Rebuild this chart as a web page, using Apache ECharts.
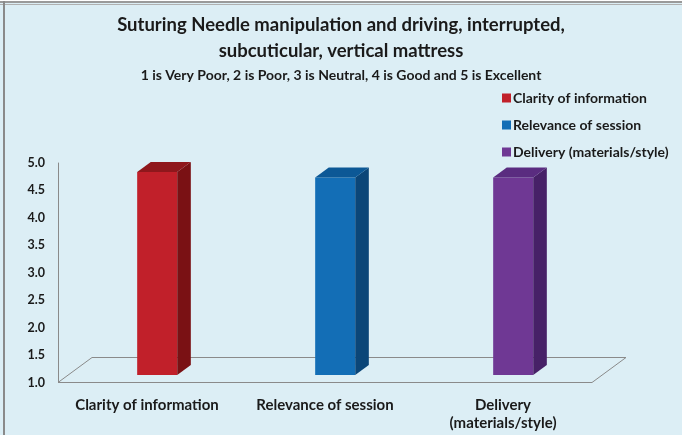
<!DOCTYPE html>
<html>
<head>
<meta charset="utf-8">
<script src="https://cdn.jsdelivr.net/npm/echarts@6/dist/echarts.min.js"></script>
<style>
html,body{margin:0;padding:0;background:#fff;}
#chart{width:682px;height:435px;}
</style>
</head>
<body>
<div id="chart"></div>
<script>
// ---- data ----
const categories = ['Clarity of information', 'Relevance of session', 'Delivery\n(materials/style)'];
const seriesNames = ['Clarity of information', 'Relevance of session', 'Delivery (materials/style)'];
const values = [4.7, 4.6, 4.6];
const yMin = 1, yMax = 5, yStep = 0.5;
const titleText = 'Suturing Needle manipulation and driving, interrupted,\nsubcuticular, vertical mattress';
const subtitleText = '1 is Very Poor, 2 is Poor, 3 is Neutral, 4 is Good and 5 is Excellent';

// ---- styles ----
const faceColors = [
  {front: '#C1202A', side: '#7A1114', top: '#8F171C'},
  {front: '#136EB6', side: '#0B4678', top: '#0C5896'},
  {front: '#6F3894', side: '#472167', top: '#5A2C80'}
];
const DEPTH_X = 34, DEPTH_Y = -25;
const F0 = 0.3, F1 = 0.7, BAR_W = 0.225;
const FONT = 'Lato';

const chart = echarts.init(document.getElementById('chart'));

function barRenderer(si) {
  return function (params, api) {
    const ci = api.value(0), v = api.value(1);
    const base = api.coord([ci, yMin]);
    const top = api.coord([ci, v]);
    const w = api.size([1, 0])[0] * BAR_W;
    const xL = base[0] - w / 2 + DEPTH_X * F0;
    const xR = xL + w;
    const yB = base[1] + DEPTH_Y * F0;
    const yT = top[1] + DEPTH_Y * F0;
    const sx = DEPTH_X * (F1 - F0), sy = DEPTH_Y * (F1 - F0);
    const c = faceColors[si];
    return {
      type: 'group',
      children: [
        {type: 'polygon', shape: {points: [[xL, yT], [xR, yT], [xR, yB], [xL, yB]]}, style: {fill: c.front}},
        {type: 'polygon', shape: {points: [[xR, yT], [xR + sx, yT + sy], [xR + sx, yB + sy], [xR, yB]]}, style: {fill: c.side}},
        {type: 'polygon', shape: {points: [[xL, yT], [xR, yT], [xR + sx, yT + sy], [xL + sx, yT + sy]]}, style: {fill: c.top}}
      ]
    };
  };
}

function floorRenderer(params, api) {
  const cs = params.coordSys;
  const yF = api.coord([0, yMin])[1];
  const x0 = cs.x, x1 = cs.x + cs.width;
  return {
    type: 'polygon',
    shape: {points: [[x0, yF], [x1, yF], [x1 + DEPTH_X, yF + DEPTH_Y], [x0 + DEPTH_X, yF + DEPTH_Y]]},
    style: {fill: 'rgba(0,0,0,0)', stroke: '#8a8a8a', lineWidth: 1}
  };
}

const series = [{
  type: 'custom',
  name: '__floor',
  renderItem: floorRenderer,
  data: [[0, yMin]],
  silent: true,
  z: 1
}];
seriesNames.forEach((n, i) => {
  series.push({
    type: 'custom',
    name: n,
    renderItem: barRenderer(i),
    itemStyle: {color: faceColors[i].front},
    data: [[i, values[i]]],
    z: 2
  });
});

const txt = '#1a1a1a';
chart.setOption({
  backgroundColor: '#DCEEF5',
  animation: false,
  textStyle: {fontFamily: FONT},
  title: [
    {text: titleText, left: 'center', top: 7,
     textStyle: {fontFamily: FONT, fontSize: 18.5, fontWeight: 700, color: txt, lineHeight: 26}},
    {text: subtitleText, left: 'center', top: 63,
     textStyle: {fontFamily: FONT, fontSize: 14, fontWeight: 700, color: txt}}
  ],
  legend: {
    data: seriesNames,
    orient: 'vertical',
    left: 497, top: 86,
    itemWidth: 9, itemHeight: 9, itemGap: 13,
    icon: 'rect',
    textStyle: {fontFamily: FONT, fontSize: 14, fontWeight: 700, color: txt, padding: [0, 0, 0, -3]}
  },
  grid: {left: 58, right: 90, top: 163, bottom: 52.5, containLabel: false},
  xAxis: {
    type: 'category',
    data: categories,
    axisLine: {show: false},
    axisTick: {show: false},
    axisLabel: {fontFamily: FONT, fontSize: 15, fontWeight: 700, color: txt, margin: 14, lineHeight: 18, interval: 0}
  },
  yAxis: {
    type: 'value',
    min: yMin, max: yMax, interval: yStep,
    axisLine: {show: true, lineStyle: {color: '#8a8a8a'}},
    axisTick: {show: false},
    splitLine: {show: false},
    axisLabel: {fontFamily: FONT, fontSize: 12.5, fontWeight: 700, color: txt, margin: 13,
      formatter: v => v.toFixed(1)}
  },
  graphic: [
    {type: 'rect', shape: {x: 0, y: 0, width: 682, height: 1}, style: {fill: '#ffffff'}, silent: true},
    {type: 'rect', shape: {x: 0, y: 1, width: 682, height: 2}, style: {fill: '#9a9a9a'}, silent: true},
    {type: 'rect', shape: {x: 0, y: 4, width: 682, height: 1}, style: {fill: '#b0b0b0'}, silent: true},
    {type: 'rect', shape: {x: 3, y: 1, width: 2, height: 434}, style: {fill: '#8a8a8a'}, silent: true}
  ],
  series: series
});
</script>
</body>
</html>
